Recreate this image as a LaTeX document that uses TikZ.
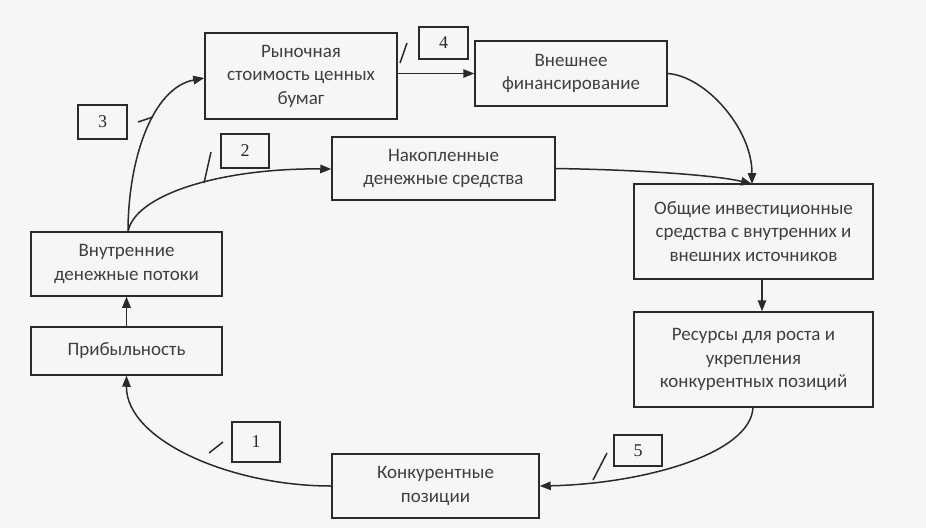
\documentclass[tikz,border=0pt]{standalone}
\usepackage{fontspec}
\setmainfont{Carlito}
\newfontfamily\numfont{Liberation Serif}
\usetikzlibrary{arrows.meta}
\definecolor{bg}{HTML}{F6F6F6}
\definecolor{ink}{HTML}{2A2A2A}
\begin{document}
\begin{tikzpicture}[x=1pt,y=-1pt,
  box/.style={draw=ink,line width=1.5pt,fill=none,inner sep=0pt,align=center,
    font=\fontsize{19}{23.5}\selectfont,text=ink!90},
  numbox/.style={draw=ink,line width=1.5pt,inner sep=0pt,
    font=\numfont\fontsize{18}{20}\selectfont,text=ink},
  arr/.style={draw=ink,line width=1.5pt,-{Triangle[length=11pt,width=8.5pt]}},
  tick/.style={draw=ink,line width=1.5pt}]
\path[fill=bg] (0,0) rectangle (926,528);
\useasboundingbox (0,0) rectangle (926,528);
% main boxes
\node[box,minimum width=191pt,minimum height=48pt] (prib) at (126.5,351) {Прибыльность};
\node[box,minimum width=191pt,minimum height=64pt] (vnut) at (126.5,264) {Внутренние\\денежные потоки};
\node[box,minimum width=192pt,minimum height=86pt] (ryn) at (301,76) {Рыночная\\стоимость ценных\\бумаг};
\node[box,minimum width=192pt,minimum height=65pt] (vnesh) at (571,73.5) {Внешнее\\финансирование};
\node[box,minimum width=223pt,minimum height=63pt] (nakop) at (443.5,168.5) {Накопленные\\денежные средства};
\node[box,minimum width=239pt,minimum height=95pt] (obsh) at (753.5,231.5) {Общие инвестиционные\\средства с внутренних и\\внешних источников};
\node[box,minimum width=239pt,minimum height=95pt] (res) at (753.5,359.5) {Ресурсы для роста и\\укрепления\\конкурентных позиций};
\node[box,minimum width=207pt,minimum height=64pt] (konk) at (435.5,486) {Конкурентные\\позиции};
% number boxes
\node[numbox,minimum width=48pt,minimum height=40pt] (b1) at (256,442) {1};
\node[numbox,minimum width=48pt,minimum height=34pt] (b2) at (245,151) {2};
\node[numbox,minimum width=49pt,minimum height=34pt] (b3) at (102.5,122) {3};
\node[numbox,minimum width=49pt,minimum height=32pt] (b4) at (443.5,43) {4};
\node[numbox,minimum width=48pt,minimum height=31pt] (b5) at (638,450.5) {5};
% connectors
\coordinate (vtop) at (128,232);
\draw[arr] (prib.north) -- (vnut.south);
\draw[arr] (vtop) .. controls (128,160) and (152,88) .. (ryn.west |- 0,78);
\draw[arr] (vtop) .. controls (134,195) and (220,168) .. (nakop.west |- 0,169);
\draw[arr] (ryn.east |- vnesh.west) -- (vnesh.west);
\coordinate (otop) at (752,184);
\draw[arr] (vnesh.east) .. controls (705,76) and (752,128) .. (otop);
\draw[arr] (nakop.east) .. controls (650,170) and (720,176) .. (otop);
\draw[arr] ([xshift=8.5pt]obsh.south) -- ([xshift=8.5pt]res.north);
\draw[arr] ([xshift=-0.5pt]res.south) .. controls (750,455) and (640,484) .. (konk.east);
\draw[arr] (konk.west) .. controls (230,486) and (126,440) .. (prib.south);
% label leaders
\coordinate (t1a) at (209,453); \coordinate (t1b) at (223,442);
\coordinate (t2a) at (204,183); \coordinate (t2b) at (211,152);
\coordinate (t3a) at (138,122); \coordinate (t3b) at (153,117);
\coordinate (t4a) at (400,63);  \coordinate (t4b) at (407,43);
\coordinate (t5a) at (593,480); \coordinate (t5b) at (607,453);
\draw[tick] (t1a) -- (t1b);
\draw[tick] (t2a) -- (t2b);
\draw[tick] (t3a) -- (t3b);
\draw[tick] (t4a) -- (t4b);
\draw[tick] (t5a) -- (t5b);
\end{tikzpicture}
\end{document}
